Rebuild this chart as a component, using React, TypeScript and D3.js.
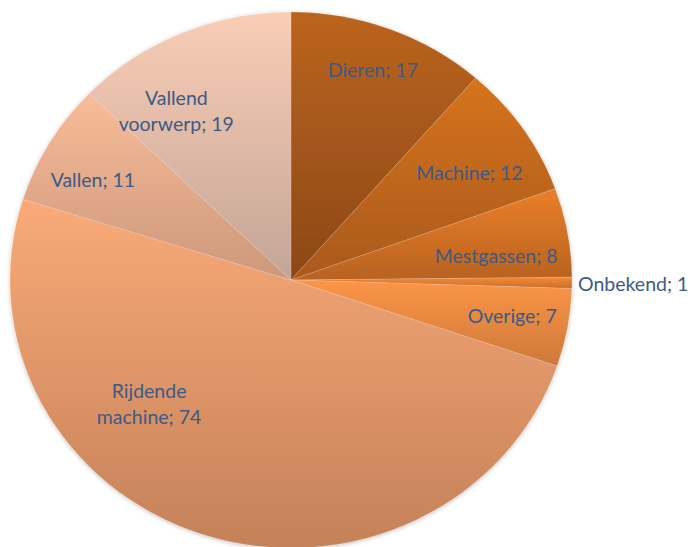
import React from 'react';
import * as d3 from 'd3';

// gegevens uit de grafiek (ongevallen per oorzaak)
const categories = ['Dieren', 'Machine', 'Mestgassen', 'Onbekend', 'Overige', 'Rijdende machine', 'Vallen', 'Vallend voorwerp'];
const values = [17, 12, 8, 1, 7, 74, 11, 19];
// label regels (met afbreking zoals in het origineel)
const labelLines = [
  ['Dieren; 17'],
  ['Machine; 12'],
  ['Mestgassen; 8'],
  ['Onbekend; 1'],
  ['Overige; 7'],
  ['Rijdende', 'machine; 74'],
  ['Vallen; 11'],
  ['Vallend', 'voorwerp; 19'],
];
// kleurverloop boven -> onder per taartpunt
const topColors = ['#bb641f', '#d6731f', '#ea7f2a', '#f48a35', '#fc9546', '#f9aa78', '#f8bd99', '#facdb6'];
const bottomColors = ['#8c4816', '#a9591a', '#b86220', '#c76e2a', '#cd793b', '#c58158', '#cc977b', '#c3a597'];

const W = 691;
const H = 547;
const cx = 291;
const cy = 280;
const rx = 281;
const ry = 268;

// kleine verschuivingen t.o.v. het zwaartepunt (zoals Excel 'best passend' plaatst)
const nudge: [number, number][] = [[3, -9], [-7, 14], [-16, 14], [0, 0], [0, -2], [-72, -80], [-5, 10], [-27, 28]];

export default function App() {
  const pie = d3.pie<number>().sort(null).value(d => d);
  const arcs = pie(values);
  const path = d3.arc<d3.PieArcDatum<number>>().innerRadius(0).outerRadius(rx);
  const labelArc = d3.arc<d3.PieArcDatum<number>>().innerRadius(rx * 0.8).outerRadius(rx * 0.8);
  const sy = ry / rx;

  return (
    <svg width={W} height={H} style={{ position: 'absolute', left: 0, top: 0 }}
      fontFamily="Lato, 'Open Sans', sans-serif">
      <defs>
        {arcs.map((a, i) => (
          <linearGradient key={i} id={`g${i}`} x1="0" y1="0" x2="0" y2="1">
            <stop offset="0" stopColor={topColors[i]} />
            <stop offset="1" stopColor={bottomColors[i]} />
          </linearGradient>
        ))}
        <filter id="shadow" x="-10%" y="-10%" width="120%" height="120%">
          <feDropShadow dx="0" dy="1" stdDeviation="2" floodColor="#000" floodOpacity="0.25" />
        </filter>
      </defs>
      <g transform={`translate(${cx},${cy}) scale(1,${sy})`} filter="url(#shadow)">
        {arcs.map((a, i) => (
          <path key={i} d={path(a) || ''} fill={`url(#g${i})`} stroke="#ffffff" strokeOpacity={0.25} strokeWidth={0.6} />
        ))}
      </g>
      <g fill="#3d5a86" fontSize={19.5}>
        {arcs.map((a, i) => {
          if (categories[i] === 'Onbekend') {
            const mid = (a.startAngle + a.endAngle) / 2;
            const x = cx + (rx + 6) * Math.sin(mid);
            const y = cy - ry * Math.cos(mid);
            return (
              <text key={i} x={x} y={y + 8} textAnchor="start">{labelLines[i][0]}</text>
            );
          }
          const [px, py] = labelArc.centroid(a);
          const x = cx + px + nudge[i][0];
          const y = cy + py * sy + nudge[i][1];
          const lines = labelLines[i];
          const lh = 26;
          return (
            <text key={i} textAnchor="middle">
              {lines.map((l, j) => (
                <tspan key={j} x={x} y={y + 7 + (j - (lines.length - 1) / 2) * lh}>{l}</tspan>
              ))}
            </text>
          );
        })}
      </g>
    </svg>
  );
}
